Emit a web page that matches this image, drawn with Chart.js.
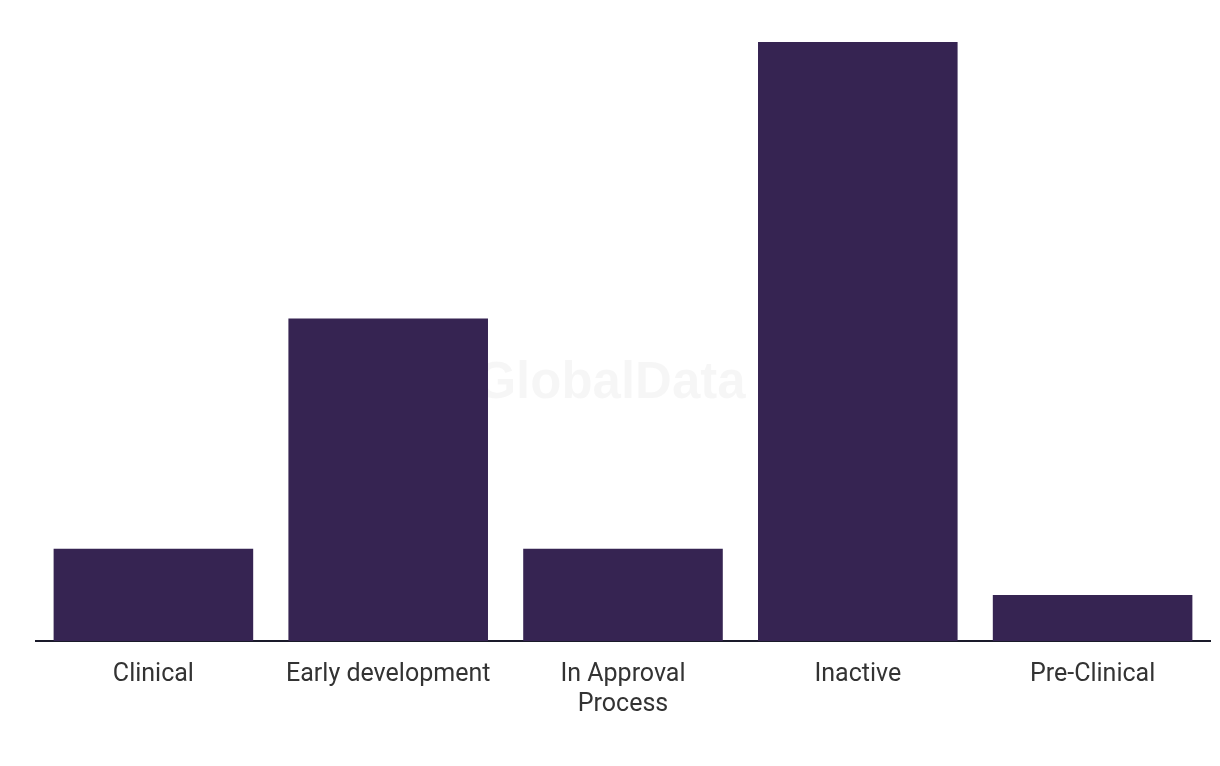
<!DOCTYPE html>
<html>
<head>
<meta charset="utf-8">
<script src="https://cdn.jsdelivr.net/npm/chart.js@4/dist/chart.umd.min.js"></script>
<style>
html,body{margin:0;padding:0;background:#fff;}
#wrap{width:1220px;height:766px;position:relative;}
</style>
</head>
<body>
<div id="wrap"><canvas id="c" width="1220" height="766"></canvas></div>
<script>
const categories = [["Clinical"], ["Early development"], ["In Approval", "Process"], ["Inactive"], ["Pre-Clinical"]];
const values = [2, 7, 2, 13, 1];
const watermarkText = "GlobalData";

const watermark = {
  id: 'watermark',
  beforeDatasetsDraw(chart) {
    const ctx = chart.ctx;
    ctx.save();
    ctx.font = 'bold 51px "Liberation Sans", Arial, sans-serif';
    ctx.fillStyle = 'rgba(0,0,0,0.035)';
    ctx.textAlign = 'center';
    ctx.textBaseline = 'middle';
    ctx.fillText(watermarkText, 611, 384);
    ctx.restore();
  }
};

new Chart(document.getElementById('c'), {
  type: 'bar',
  data: {
    labels: categories,
    datasets: [{
      data: values,
      backgroundColor: '#362452',
      borderWidth: 0,
      barPercentage: 0.85,
      categoryPercentage: 1.0
    }]
  },
  options: {
    responsive: false,
    animation: false,
    devicePixelRatio: 1,
    layout: { padding: { left: 36, right: 10, top: 42, bottom: 27 } },
    plugins: { legend: { display: false }, tooltip: { enabled: false } },
    scales: {
      x: {
        grid: { display: false, drawTicks: false },
        border: { display: true, color: '#1a1a2a', width: 2 },
        ticks: {
          color: '#333333',
          font: { family: 'Roboto', size: 25 },
          padding: 19,
          maxRotation: 0,
          autoSkip: false
        }
      },
      y: {
        display: false,
        min: 0,
        max: 13,
        grid: { display: false }
      }
    }
  },
  plugins: [watermark]
});
</script>
</body>
</html>
